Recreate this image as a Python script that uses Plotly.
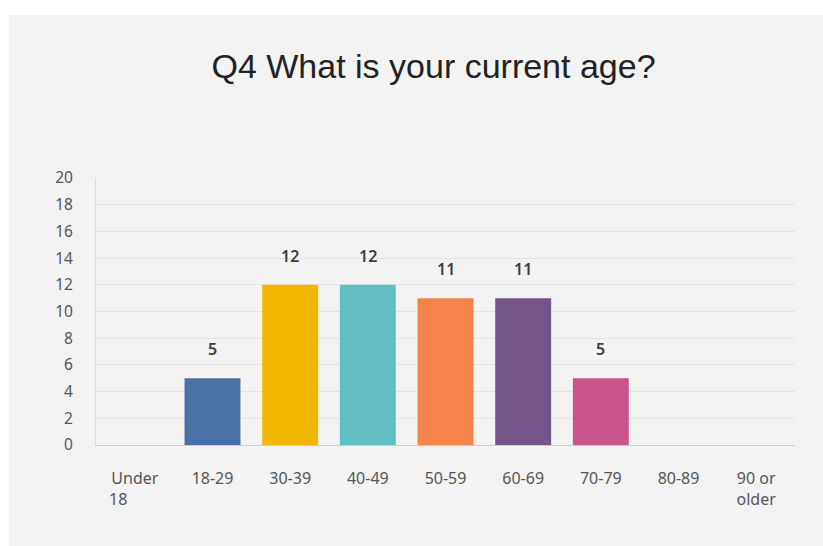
import plotly.graph_objects as go

categories = ["Under 18", "18-29", "30-39", "40-49", "50-59", "60-69", "70-79", "80-89", "90 or older"]
tick_labels = ["Under<br>18" + "\u00a0" * 8, "18-29", "30-39", "40-49", "50-59", "60-69", "70-79", "80-89", "90 or<br>older"]
counts = [0, 5, 12, 12, 11, 11, 5, 0, 0]
bar_colors = ["#4a71a6", "#4a71a6", "#f0b600", "#62bec1", "#f4844a", "#74558a", "#c9558c", "#999999", "#999999"]
y_ticks = list(range(0, 21, 2))

W, H = 823, 546
pw, ph = 699, 267
L, T = 96, 178
R, B = W - L - pw, H - T - ph
EXTRA = 10  # let the gray panel run past the window edge

fig = go.Figure(go.Bar(
    x=categories, y=counts, marker=dict(color=bar_colors, line=dict(width=0)),
    hoverinfo="x+y",
))

for c, v in zip(categories, counts):
    if v > 0:
        fig.add_annotation(x=c, y=v, text=str(v), showarrow=False, yshift=29,
                           yanchor="middle",
                           font=dict(family="Noto Sans", size=16, color="#3d3d3d", weight=600))

# white border strips (top and left) around the gray panel
fig.add_shape(type="rect", xref="paper", yref="paper", layer="below",
              x0=-L / pw - 0.02, x1=(W + EXTRA - L) / pw + 0.02,
              y0=(T + ph - 15) / ph, y1=(T + ph) / ph + 0.02,
              fillcolor="white", line=dict(width=0))
fig.add_shape(type="rect", xref="paper", yref="paper", layer="below",
              x0=-L / pw - 0.02, x1=(9 - L) / pw,
              y0=-(H + EXTRA - (T + ph)) / ph - 0.02, y1=(T + ph) / ph + 0.02,
              fillcolor="white", line=dict(width=0))

fig.update_layout(
    width=W + EXTRA, height=H + EXTRA,
    margin=dict(l=L, r=R + EXTRA, t=T, b=B + EXTRA, pad=0),
    paper_bgcolor="#f3f3f3", plot_bgcolor="rgba(0,0,0,0)",
    bargap=0.28,
    showlegend=False,
    title=dict(text="Q4 What is your current age?", x=(433.5 - L) / pw, xref="paper",
               xanchor="center", y=1 - 66 / (H + EXTRA), yref="container", yanchor="middle",
               font=dict(family="Liberation Sans", size=34, color="#222222")),
    xaxis=dict(tickmode="array", tickvals=categories, ticktext=tick_labels,
               showline=True, linecolor="#cccccc", linewidth=1, showgrid=False,
               ticks="", ticklabelstandoff=19,
               tickfont=dict(family="Noto Sans", size=16, color="#555555")),
    yaxis=dict(range=[0, 20], tickvals=y_ticks, showgrid=True, gridcolor="#e3e3e3",
               gridwidth=1, zeroline=False, showline=True, linecolor="#dddddd",
               ticks="", ticklabelstandoff=19,
               tickfont=dict(family="Noto Sans", size=15.5, color="#555555")),
)

fig.write_html("out.html", config={"displayModeBar": False},
               post_script="document.body.style.margin='0';document.body.style.overflow='hidden';")
